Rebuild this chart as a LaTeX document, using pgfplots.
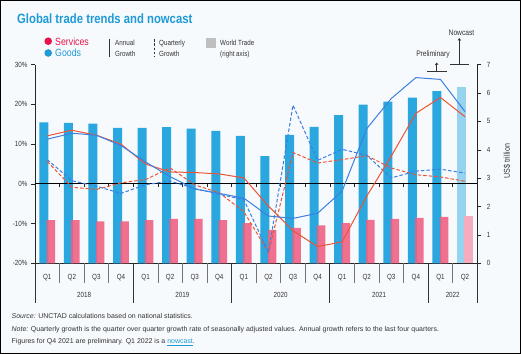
\documentclass[border=0pt]{standalone}
\usepackage{pgfplots}
\pgfplotsset{compat=1.18}
\usepackage{pgfplotstable}
\usepackage{fontspec}
\setmainfont{Liberation Sans}[FakeStretch=0.84]
\newfontfamily\footfont{Liberation Sans}
\usetikzlibrary{arrows.meta}
\definecolor{bg}{HTML}{F7FAFD}
\definecolor{goodsbar}{HTML}{2AA7DF}
\definecolor{goodslight}{HTML}{95D3EF}
\definecolor{servbar}{HTML}{EE5F80}
\definecolor{servlight}{HTML}{F6ABBF}
\definecolor{bline}{HTML}{3D7FE0}
\definecolor{rline}{HTML}{EE5434}
\definecolor{titleblue}{HTML}{1E9AD6}
\definecolor{servred}{HTML}{E6144A}
\definecolor{txt}{HTML}{333333}

% i = quarter index (0 = 2018 Q1 ... 17 = 2022 Q2)
% ga/sa = annual growth goods/services (%), gq/sq = quarterly growth (%)
\pgfplotstableread{
i  ga     sa     gq     sq
0  11.25  12.1   6.1    5.65
1  12.75  13.5   0.8   -0.85
2  12.25  12.25 -0.6   -1.4
3  9.65   10.0  -2.4    0.25
4  5.5    5.0   -0.2    1.1
5  1.8    3.0    0.7    4.0
6  -1.3   2.85  -1.2   -0.25
7  -2.4   2.5   -2.6   -2.25
8  -3.6   1.5   -4.0   -7.0
9  -8.1  -5.6  -17.25 -17.25
10 -8.7  -11.8  19.8    7.9
11 -7.4  -15.8   5.9    5.25
12 -1.8  -14.6   8.7    6.1
13 13.9   -3.1   7.2    7.1
14 21.5    7.0   1.5    4.0
15 26.75  17.75  3.2    2.3
16 26.3   21.75  3.7    1.75
17 18.2   16.9   2.7    0.65
}\growth

\begin{document}
\begin{tikzpicture}
\fill[bg] (0,0) rectangle (521bp,-354bp);
\draw[black, line width=1bp] (0.5bp,-0.5bp) rectangle (520.5bp,-353.5bp);

% ---------- bars, right axis (US$ trillion) ----------
\begin{axis}[
  at={(35bp,-263.3bp)}, anchor=south west, scale only axis,
  width=442.3bp, height=198.6bp,
  xmin=-0.5, xmax=17.5, ymin=0, ymax=7,
  axis y line*=right, axis x line*=bottom,
  axis line style={-, draw=black!85, line width=0.8bp},
  xtick=\empty,
  ytick={0,...,7},
  tick align=outside, major tick length=4bp,
  tick style={draw=black!85, line width=0.6bp},
  yticklabel style={font=\fontsize{7.5}{9}\selectfont, text=txt, xshift=2bp},
  /pgf/number format/assume math mode=true,
  clip=false,
]
\addplot[ybar, bar width=9bp, bar shift=-3.5bp, fill=goodsbar, draw=none]
  coordinates {(0,4.97) (1,4.95) (2,4.92) (3,4.77) (4,4.77) (5,4.80) (6,4.75) (7,4.67) (8,4.49)
               (9,3.78) (10,4.53) (11,4.81) (12,5.22) (13,5.59) (14,5.70) (15,5.84) (16,6.07)};
\addplot[ybar, bar width=9bp, bar shift=-3.5bp, fill=goodslight, draw=none]
  coordinates {(17,6.22)};
\addplot[ybar, bar width=8.5bp, bar shift=3.6bp, fill=servbar, fill opacity=0.88, draw=none]
  coordinates {(0,1.52) (1,1.52) (2,1.48) (3,1.48) (4,1.52) (5,1.57) (6,1.57) (7,1.52) (8,1.42)
               (9,1.18) (10,1.25) (11,1.34) (12,1.42) (13,1.53) (14,1.57) (15,1.60) (16,1.64)};
\addplot[ybar, bar width=8.5bp, bar shift=3.6bp, fill=servlight, draw=none]
  coordinates {(17,1.67)};
% quarter and year separators below the axis
\pgfplotsinvokeforeach{0.5,1.5,2.5,4.5,5.5,6.5,8.5,9.5,10.5,12.5,13.5,14.5,16.5}{
  \draw[black!55, line width=0.7bp] (axis cs:#1,0) -- ([yshift=-20bp]axis cs:#1,0);
}
\pgfplotsinvokeforeach{-0.5,3.5,7.5,11.5,15.5,17.5}{
  \draw[black!80, line width=0.8bp] (axis cs:#1,0) -- ([yshift=-40bp]axis cs:#1,0);
}
\end{axis}

% ---------- growth lines, left axis (%) ----------
\begin{axis}[
  at={(35bp,-263.3bp)}, anchor=south west, scale only axis,
  width=442.3bp, height=198.6bp,
  xmin=-0.5, xmax=17.5, ymin=-20, ymax=30,
  axis y line*=left, axis x line*=bottom,
  axis line style={-, draw=black!85, line width=0.8bp},
  x axis line style={draw=none},
  xtick={0,...,17},
  xticklabels={Q1,Q2,Q3,Q4,Q1,Q2,Q3,Q4,Q1,Q2,Q3,Q4,Q1,Q2,Q3,Q4,Q1,Q2},
  x tick style={draw=none},
  xticklabel style={font=\fontsize{7.5}{9}\selectfont, text=txt, anchor=base, yshift=-12bp},
  ytick={-20,-10,...,30},
  yticklabel={\pgfmathprintnumber{\tick}\%},
  yticklabel style={font=\fontsize{7.5}{9}\selectfont, text=txt},
  tick align=outside, major tick length=4bp,
  y tick style={draw=black!85, line width=0.6bp},
  /pgf/number format/assume math mode=true,
  clip=false,
]
\draw[black, line width=0.9bp] (axis cs:-0.5,0) -- (axis cs:17.5,0);
\pgfplotsinvokeforeach{0.5,1.5,...,16.5}{
  \draw[black!85, line width=0.6bp] (axis cs:#1,0) -- ([yshift=-3bp]axis cs:#1,0);
}
\addplot[rline, line width=1bp, dash pattern=on 3.5bp off 2bp] table[x=i, y=sq] {\growth};
\addplot[bline, line width=1bp, dash pattern=on 3.5bp off 2bp] table[x=i, y=gq] {\growth};
\addplot[rline, line width=1bp] table[x=i, y=sa] {\growth};
\addplot[bline, line width=1bp] table[x=i, y=ga] {\growth};

\node[anchor=base, font=\fontsize{7.5}{9}\selectfont, text=txt] at (axis cs:1.5,-20) [yshift=-34.5bp] {2018};
\node[anchor=base, font=\fontsize{7.5}{9}\selectfont, text=txt] at (axis cs:5.5,-20) [yshift=-34.5bp] {2019};
\node[anchor=base, font=\fontsize{7.5}{9}\selectfont, text=txt] at (axis cs:9.5,-20) [yshift=-34.5bp] {2020};
\node[anchor=base, font=\fontsize{7.5}{9}\selectfont, text=txt] at (axis cs:13.5,-20) [yshift=-34.5bp] {2021};
\node[anchor=base, font=\fontsize{7.5}{9}\selectfont, text=txt] at (axis cs:16.5,-20) [yshift=-34.5bp] {2022};
\end{axis}

% right axis label
\node[rotate=90, font=\fontsize{8.5}{10}\selectfont, text=txt] at (507bp,-161bp) {US\$ trillion};

% title
\node[anchor=base west, inner sep=0pt, font=\bfseries\fontsize{13.5}{16}\selectfont, text=titleblue] at (17bp,-23bp) {Global trade trends and nowcast};

% legend
\fill[servred] (48.2bp,-41.2bp) circle (3.8bp);
\fill[titleblue] (48.2bp,-53bp) circle (3.8bp);
\node[anchor=base west, inner sep=0pt, font=\fontsize{10.5}{12}\selectfont, text=servred] at (55bp,-45bp) {Services};
\node[anchor=base west, inner sep=0pt, font=\fontsize{10.5}{12}\selectfont, text=titleblue] at (55bp,-56.7bp) {Goods};
\draw[black!80, line width=0.9bp] (109.5bp,-39bp) -- (109.5bp,-57bp);
\node[anchor=base west, inner sep=0pt, font=\fontsize{7.5}{9}\selectfont, text=txt] at (115bp,-45bp) {Annual};
\node[anchor=base west, inner sep=0pt, font=\fontsize{7.5}{9}\selectfont, text=txt] at (115bp,-56.5bp) {Growth};
\draw[black!80, line width=0.9bp, dash pattern=on 2.5bp off 1.8bp] (154bp,-39bp) -- (154bp,-57bp);
\node[anchor=base west, inner sep=0pt, font=\fontsize{7.5}{9}\selectfont, text=txt] at (159bp,-45bp) {Quarterly};
\node[anchor=base west, inner sep=0pt, font=\fontsize{7.5}{9}\selectfont, text=txt] at (159bp,-56.5bp) {Growth};
\fill[black!25] (206bp,-38.3bp) rectangle (215.5bp,-48.3bp);
\node[anchor=base west, inner sep=0pt, font=\fontsize{7.5}{9}\selectfont, text=txt] at (220bp,-45bp) {World Trade};
\node[anchor=base west, inner sep=0pt, font=\fontsize{7.5}{9}\selectfont, text=txt] at (220bp,-56.5bp) {(right axis)};

% preliminary / nowcast annotations
\node[anchor=base, inner sep=0pt, font=\fontsize{8}{9}\selectfont, text=txt] at (461.5bp,-35.7bp) {Nowcast};
\draw[black!80, line width=0.6bp, -{Straight Barb[length=2bp,width=3bp]}] (459.3bp,-64.3bp) -- (459.3bp,-38bp);
\draw[black!80, line width=0.6bp] (450bp,-64.3bp) -- (468.5bp,-64.3bp);
\node[anchor=base, inner sep=0pt, font=\fontsize{8}{9}\selectfont, text=txt] at (433bp,-56.5bp) {Preliminary};
\draw[black!80, line width=0.6bp, -{Straight Barb[length=2bp,width=3bp]}] (436.7bp,-71bp) -- (436.7bp,-62.5bp);
\draw[black!80, line width=0.6bp] (427bp,-71bp) -- (447bp,-71bp);

% footer
\node[anchor=base west, inner sep=0pt, font=\footfont\fontsize{7}{8}\selectfont, text=txt] at (11.5bp,-318.5bp) {\textit{Source:} UNCTAD calculations based on national statistics.};
\node[anchor=base west, inner sep=0pt, font=\footfont\fontsize{7}{8}\selectfont, text=txt] at (11.5bp,-331bp) {\textit{Note:} Quarterly growth is the quarter over quarter growth rate of seasonally adjusted values. Annual growth refers to the last four quarters.};
\node[anchor=base west, inner sep=0pt, font=\footfont\fontsize{7}{8}\selectfont, text=txt] at (11.5bp,-343.3bp) {Figures for Q4 2021 are preliminary. Q1 2022 is a \textcolor{titleblue}{\underline{nowcast}}.};
\end{tikzpicture}
\end{document}
